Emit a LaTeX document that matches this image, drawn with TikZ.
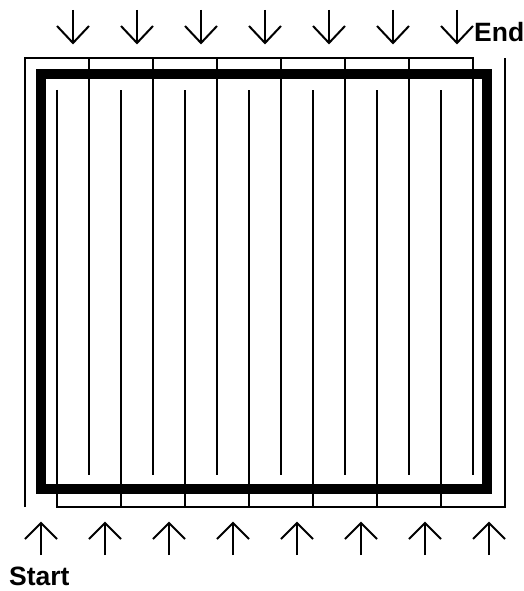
\documentclass[tikz,border=0pt]{standalone}
\usepackage{fontspec}
\setmainfont{Liberation Sans}
\begin{document}
\begin{tikzpicture}[x=1pt,y=-1pt,
  thin/.style={line width=2pt, line cap=butt},
  thick frame/.style={line width=10pt, line join=miter},
  arr/.style={line width=2pt},
  lbl/.style={font=\bfseries\fontsize{26.5}{30}\selectfont, inner sep=0pt}]
\useasboundingbox (0,0) rectangle (524,591);
% thick frame
\draw[thick frame] (41,74) rectangle (487,489);
% top comb
\coordinate (TL) at (25,58);
\coordinate (TR) at (473,58);
\draw[thin] (25,507) -- (TL) -- (TR) -- (473,475);
\foreach \x in {89,153,217,281,345,409} \draw[thin] (\x,58) -- (\x,475);
% bottom comb
\coordinate (BL) at (57,507);
\coordinate (BR) at (505,507);
\draw[thin] (57,90) -- (BL) -- (BR) -- (505,58);
\foreach \x in {121,185,249,313,377,441} \draw[thin] (\x,507) -- (\x,90);
% top arrows (down)
\foreach \x in {73,137,201,265,329,393,457} {
  \draw[arr] (\x,10) -- (\x,43);
  \draw[arr, line join=miter] (\x-16,26) -- (\x,43) -- (\x+16,26);
}
% bottom arrows (up)
\foreach \x in {41,105,169,233,297,361,425,489} {
  \draw[arr] (\x,555) -- (\x,523);
  \draw[arr, line join=miter] (\x-16,539) -- (\x,523) -- (\x+16,539);
}
\node[lbl, anchor=base west] (endl) at (474,42) {End};
\node[lbl, anchor=base west] (startl) at (9,585) {Start};
\end{tikzpicture}
\end{document}
